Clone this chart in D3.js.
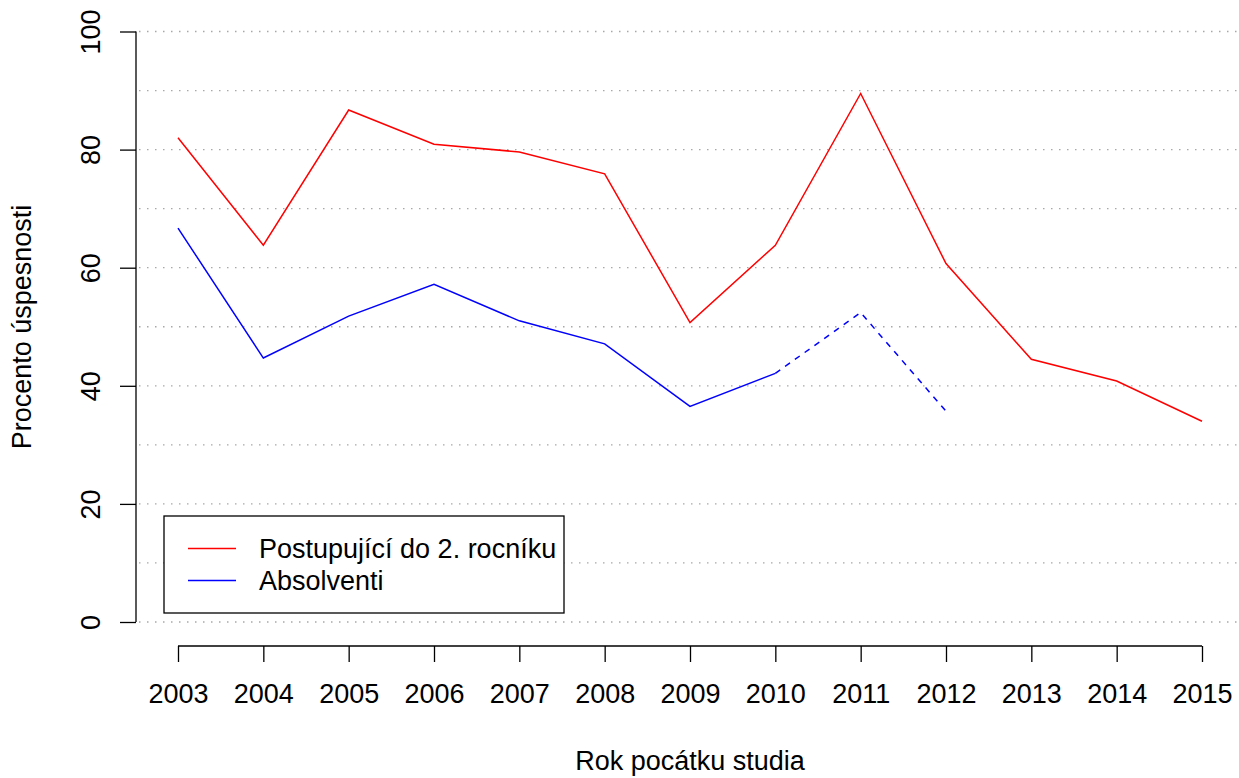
<!DOCTYPE html>
<html><head><meta charset="utf-8">
<script src="https://cdn.jsdelivr.net/npm/d3@7"></script>
<style>body{margin:0;background:#fff}svg{display:block}text{font-family:"Liberation Sans",Arial,sans-serif}</style>
</head><body>
<svg id="c" width="1239" height="778"></svg>
<script>
const years = [2003,2004,2005,2006,2007,2008,2009,2010,2011,2012,2013,2014,2015];
const postupujici = [82.0,63.8,86.7,80.9,79.6,75.9,50.7,63.8,89.5,60.7,44.5,40.8,34.0];
const absolventiYears = [2003,2004,2005,2006,2007,2008,2009,2010,2011,2012];
const absolventi = [66.7,44.7,51.8,57.2,51.0,47.1,36.5,42.1,52.4,35.7];
const solidUntil = 2010;
const yTicks = [0,20,40,60,80,100];
const gridVals = [0,10,20,30,40,50,60,70,80,90,100];
const legendLabels = ["Postupující do 2. rocníku", "Absolventi"];
const FS = 27;

const svg = d3.select("#c");
const x = d3.scaleLinear().domain([2003,2015]).range([178,1202]);
const y = d3.scaleLinear().domain([0,100]).range([622,31.5]);

// grid
svg.append("g").selectAll("line").data(gridVals).join("line")
  .attr("x1",139).attr("x2",1239).attr("y1",d=>y(d)).attr("y2",d=>y(d))
  .attr("stroke","#a8a8a8").attr("stroke-width",1.3).attr("stroke-dasharray","1.5,6.5");

// y axis
const ya = d3.axisLeft(y).tickValues(yTicks).tickSize(16).tickFormat(d3.format("d"));
const gy = svg.append("g").attr("transform","translate(136,0)").call(ya);
gy.attr("font-size",null).attr("font-family",null);
gy.select(".domain").attr("d",`M-0,${y(0)}V${y(100)}`).attr("stroke","#000").attr("stroke-width",1.3);
gy.selectAll(".tick line").attr("stroke","#000").attr("stroke-width",1.3);
gy.selectAll(".tick text").style("font-size",FS+"px").attr("fill","#000")
  .attr("text-anchor","middle").attr("x",0).attr("dy",null)
  .attr("transform","translate(-36,0) rotate(-90)").attr("y",0);

// x axis
const xa = d3.axisBottom(x).tickValues(years).tickSize(16).tickFormat(d3.format("d"));
const gx = svg.append("g").attr("transform","translate(0,646)").call(xa);
gx.attr("font-size",null).attr("font-family",null);
gx.select(".domain").attr("d",`M${x(2003)},0H${x(2015)}`).attr("stroke","#000").attr("stroke-width",1.3);
gx.selectAll(".tick line").attr("stroke","#000").attr("stroke-width",1.3);
gx.selectAll(".tick text").style("font-size",FS+"px").attr("fill","#000").attr("y",57).attr("dy",null);

// titles
svg.append("text").attr("x",690).attr("y",770).attr("text-anchor","middle").style("font-size",FS+"px").text("Rok pocátku studia");
svg.append("text").attr("transform","translate(31,327) rotate(-90)").attr("text-anchor","middle").style("font-size",FS+"px").text("Procento úspesnosti");

// lines
const line = d3.line().x(d=>x(d[0])).y(d=>y(d[1]));
const red = years.map((yr,i)=>[yr,postupujici[i]]);
svg.append("path").attr("d",line(red)).attr("fill","none").attr("stroke","#ff0000").attr("stroke-width",1.5);
const blue = absolventiYears.map((yr,i)=>[yr,absolventi[i]]);
svg.append("path").attr("d",line(blue.filter(d=>d[0]<=solidUntil))).attr("fill","none").attr("stroke","#0000ff").attr("stroke-width",1.5);
svg.append("path").attr("d",line(blue.filter(d=>d[0]>=solidUntil))).attr("fill","none").attr("stroke","#0000ff").attr("stroke-width",1.5).attr("stroke-dasharray","6,6");

// legend
const lg = svg.append("g");
lg.append("rect").attr("x",164).attr("y",516).attr("width",400).attr("height",97).attr("fill","#fff").attr("stroke","#000").attr("stroke-width",1.3);
const colors = ["#ff0000","#0000ff"];
legendLabels.forEach((t,i)=>{
  const yy = 548.5 + i*32;
  lg.append("line").attr("x1",188).attr("x2",236).attr("y1",yy).attr("y2",yy).attr("stroke",colors[i]).attr("stroke-width",1.5);
  lg.append("text").attr("x",259).attr("y",yy+9).style("font-size",FS+"px").text(t);
});
</script>
</body></html>
